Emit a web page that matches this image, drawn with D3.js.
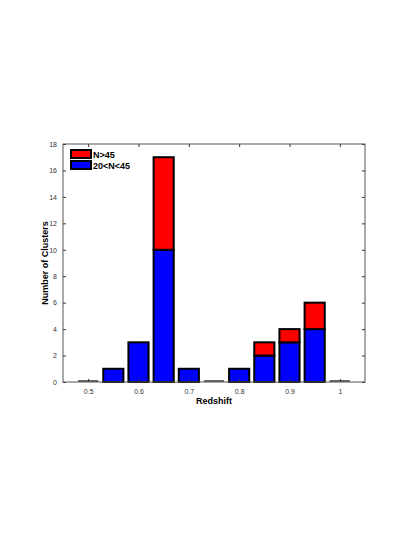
<!DOCTYPE html>
<html>
<head>
<meta charset="utf-8">
<script src="https://cdn.jsdelivr.net/npm/d3@7"></script>
<style>
  body { margin: 0; background: #fff; }
  text { font-family: "Liberation Sans", Arial, sans-serif; }
</style>
</head>
<body>
<div id="chart"></div>
<script>
// redshift bin centres and counts per bin
const redshift = [0.5, 0.55, 0.6, 0.65, 0.7, 0.75, 0.8, 0.85, 0.9, 0.95, 1.0];
const lowN = [0, 1, 3, 10, 1, 0, 1, 2, 3, 4, 0];   // 20<N<45
const highN = [0, 0, 0, 7, 0, 0, 0, 1, 1, 2, 0];   // N>45
const xTicks = [0.5, 0.6, 0.7, 0.8, 0.9, 1];
const yTicks = [0, 2, 4, 6, 8, 10, 12, 14, 16, 18];
const seriesNames = ["N>45", "20<N<45"];
const seriesColors = ["#ff0000", "#0000ff"];

const W = 415, H = 537;
const margin = {top: 144, right: 50, bottom: 155, left: 63},
    width = W - margin.left - margin.right,
    height = H - margin.top - margin.bottom;

const svg = d3.select("#chart")
    .append("svg")
    .attr("width", W)
    .attr("height", H)
    .append("g")
    .attr("transform", `translate(${margin.left}, ${margin.top})`);

const x = d3.scaleLinear().domain([0.45, 1.05]).range([0, width]);
const y = d3.scaleLinear().domain([0, 18]).range([height, 0]);

const rows = redshift.map((z, i) => ({z: z, low: lowN[i], high: highN[i]}));
const stacked = d3.stack().keys(["low", "high"])(rows);
const barW = (x(0.55) - x(0.5)) * 0.8;

svg.append("g")
    .selectAll("g")
    .data(stacked)
    .join("g")
      .attr("fill", d => d.key == "low" ? seriesColors[1] : seriesColors[0])
    .selectAll("rect")
    .data(d => d.filter(s => s[1] > s[0]))
    .join("rect")
      .attr("x", d => x(d.data.z) - barW / 2)
      .attr("y", d => y(d[1]))
      .attr("width", barW)
      .attr("height", d => y(d[0]) - y(d[1]))
      .attr("stroke", "#000")
      .attr("stroke-width", 2);

// empty bins still show a flat edge
svg.append("g")
    .selectAll("line")
    .data(rows.filter(r => r.low + r.high === 0))
    .join("line")
      .attr("x1", d => x(d.z) - barW / 2)
      .attr("x2", d => x(d.z) + barW / 2)
      .attr("y1", y(0) - 1)
      .attr("y2", y(0) - 1)
      .attr("stroke", "#333")
      .attr("stroke-width", 1.5);

// axes box with inward ticks
const axisColor = "#333";
function styleAxis(g) {
  g.select(".domain").remove();
  g.selectAll(".tick line").attr("stroke", axisColor);
  g.selectAll(".tick text").attr("fill", "#333").style("font-size", "7px");
}
svg.append("g")
    .attr("transform", `translate(0, ${height})`)
    .call(d3.axisBottom(x).tickValues(xTicks).tickFormat(d3.format("")).tickSizeInner(-3).tickPadding(7))
    .call(styleAxis);
svg.append("g")
    .call(d3.axisTop(x).tickValues(xTicks).tickSizeInner(-3).tickFormat(""))
    .call(styleAxis);
svg.append("g")
    .call(d3.axisLeft(y).tickValues(yTicks).tickSizeInner(-3).tickPadding(6))
    .call(styleAxis);
svg.append("g")
    .attr("transform", `translate(${width}, 0)`)
    .call(d3.axisRight(y).tickValues(yTicks).tickSizeInner(-3).tickFormat(""))
    .call(styleAxis);
svg.append("rect")
    .attr("width", width)
    .attr("height", height)
    .attr("fill", "none")
    .attr("stroke", "#555")
    .attr("stroke-width", 1);

// axis labels
svg.append("text")
    .attr("text-anchor", "middle")
    .attr("x", width / 2)
    .attr("y", height + 22)
    .style("font-size", "9px")
    .style("font-weight", "bold")
    .text("Redshift");
svg.append("text")
    .attr("text-anchor", "middle")
    .attr("transform", `translate(${-15}, ${height / 2}) rotate(-90)`)
    .style("font-size", "9px")
    .style("font-weight", "bold")
    .text("Number of Clusters");

// legend
const legend = svg.append("g").attr("transform", "translate(8, 6)");
seriesNames.forEach((name, i) => {
  const row = legend.append("g").attr("transform", `translate(0, ${i * 11})`);
  row.append("rect")
      .attr("width", 20)
      .attr("height", 8)
      .attr("fill", seriesColors[i])
      .attr("stroke", "#000")
      .attr("stroke-width", 2);
  row.append("text")
      .attr("x", 22)
      .attr("y", 8)
      .style("font-size", "9px")
      .style("font-weight", "bold")
      .text(name);
});
</script>
</body>
</html>
